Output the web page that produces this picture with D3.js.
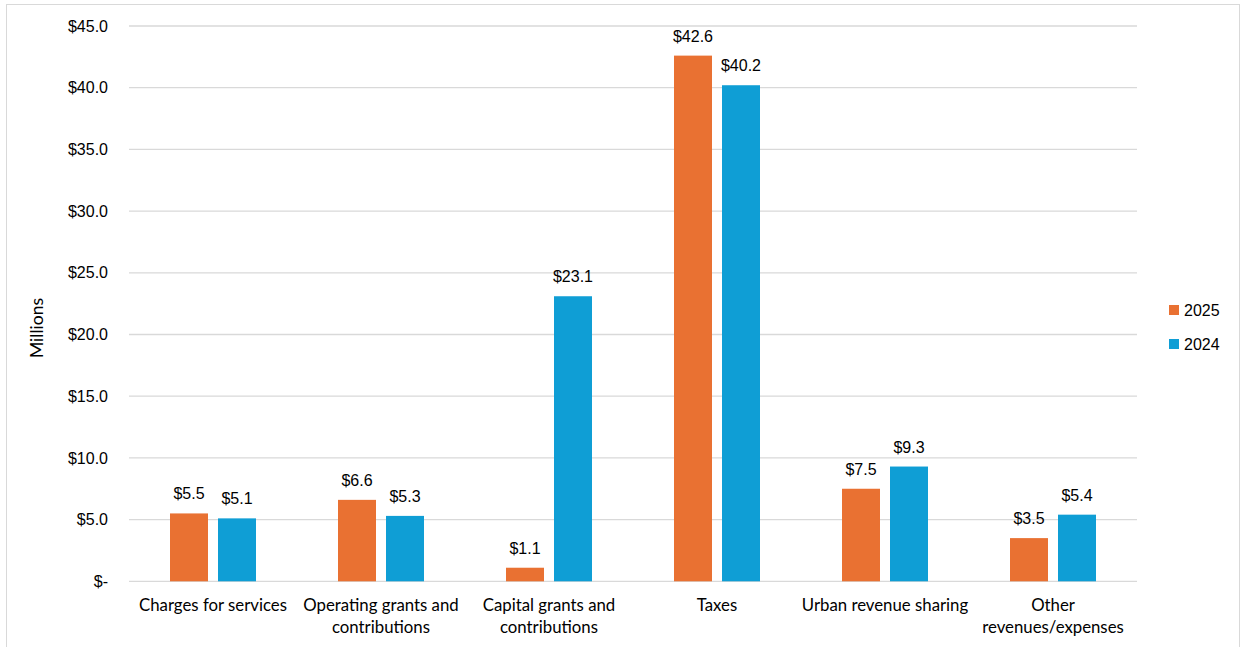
<!DOCTYPE html>
<html><head><meta charset="utf-8">
<script src="https://cdn.jsdelivr.net/npm/d3@7"></script>
<style>body{margin:0;background:#fff}svg{display:block}</style>
</head><body>
<svg id="c" width="1241" height="647"></svg>
<script>
const categories = [["Charges for services"],["Operating grants and","contributions"],["Capital grants and","contributions"],["Taxes"],["Urban revenue sharing"],["Other","revenues/expenses"]];
const seriesNames = ["2025","2024"];
const values2025 = [5.5, 6.6, 1.1, 42.6, 7.5, 3.5];
const values2024 = [5.1, 5.3, 23.1, 40.2, 9.3, 5.4];
const yTicks = [0,5,10,15,20,25,30,35,40,45];
const colors = ["#E97132","#0F9ED5"];

const svg = d3.select("#c");
svg.append("rect").attr("x",6.5).attr("y",4.5).attr("width",1233).attr("height",660)
  .attr("fill","none").attr("stroke","#d9d9d9");

const L=129, R=1137, T=26, B=581.3;
const x = d3.scaleBand().domain(d3.range(categories.length)).range([L,R]).paddingInner(0).paddingOuter(0);
const y = d3.scaleLinear().domain([0,45]).range([B,T]);
const series = [values2025, values2024];
const barW = 38, gap = 10;

// gridlines
svg.append("g").selectAll("line").data(yTicks).join("line")
  .attr("x1",L).attr("x2",R).attr("y1",d=>y(d)).attr("y2",d=>y(d))
  .attr("stroke","#d9d9d9").attr("stroke-width",1.3);

// y axis labels
const yAxis = d3.axisLeft(y).tickValues(yTicks).tickSize(0).tickPadding(0)
  .tickFormat(d=> d===0 ? "$-" : "$"+d.toFixed(1));
const ya = svg.append("g").attr("transform",`translate(${L-21},0)`).call(yAxis);
ya.select(".domain").remove();
ya.selectAll("text").attr("font-family","'Liberation Sans', Arial, sans-serif").attr("font-size",16).attr("fill","#000");

// bars
series.forEach((vals,si)=>{
  const off = si===0 ? -gap/2-barW : gap/2;
  const g = svg.append("g");
  g.selectAll("rect").data(vals).join("rect")
    .attr("x",(d,i)=>x(i)+x.bandwidth()/2+off)
    .attr("y",d=>y(d)).attr("width",barW).attr("height",d=>y(0)-y(d))
    .attr("fill",colors[si]);
  g.selectAll("text").data(vals).join("text")
    .attr("x",(d,i)=>x(i)+x.bandwidth()/2+off+barW/2)
    .attr("y",d=>y(d)-14)
    .attr("text-anchor","middle")
    .attr("font-family","'Liberation Sans', Arial, sans-serif").attr("font-size",16).attr("fill","#000")
    .text(d=>"$"+d.toFixed(1));
});

// category labels
const cg = svg.append("g");
categories.forEach((lines,i)=>{
  const t = cg.append("text").attr("text-anchor","middle")
    .attr("font-family","Lato, sans-serif").attr("font-size",16.8).attr("fill","#000");
  lines.forEach((ln,j)=>{
    t.append("tspan").attr("x",x(i)+x.bandwidth()/2).attr("y",611+j*22).text(ln);
  });
});

// y title
svg.append("text").attr("transform","translate(43,328) rotate(-90)")
  .attr("text-anchor","middle").attr("font-family","Lato, sans-serif").attr("font-size",17.5).attr("fill","#000")
  .text("Millions");

// legend
seriesNames.forEach((n,i)=>{
  const yy = 310 + i*34;
  svg.append("rect").attr("x",1169).attr("y",yy-5).attr("width",10).attr("height",10).attr("fill",colors[i]);
  svg.append("text").attr("x",1184).attr("y",yy+6).attr("font-family","'Liberation Sans', Arial, sans-serif")
    .attr("font-size",16).attr("fill","#000").text(n);
});
</script>
</body></html>
